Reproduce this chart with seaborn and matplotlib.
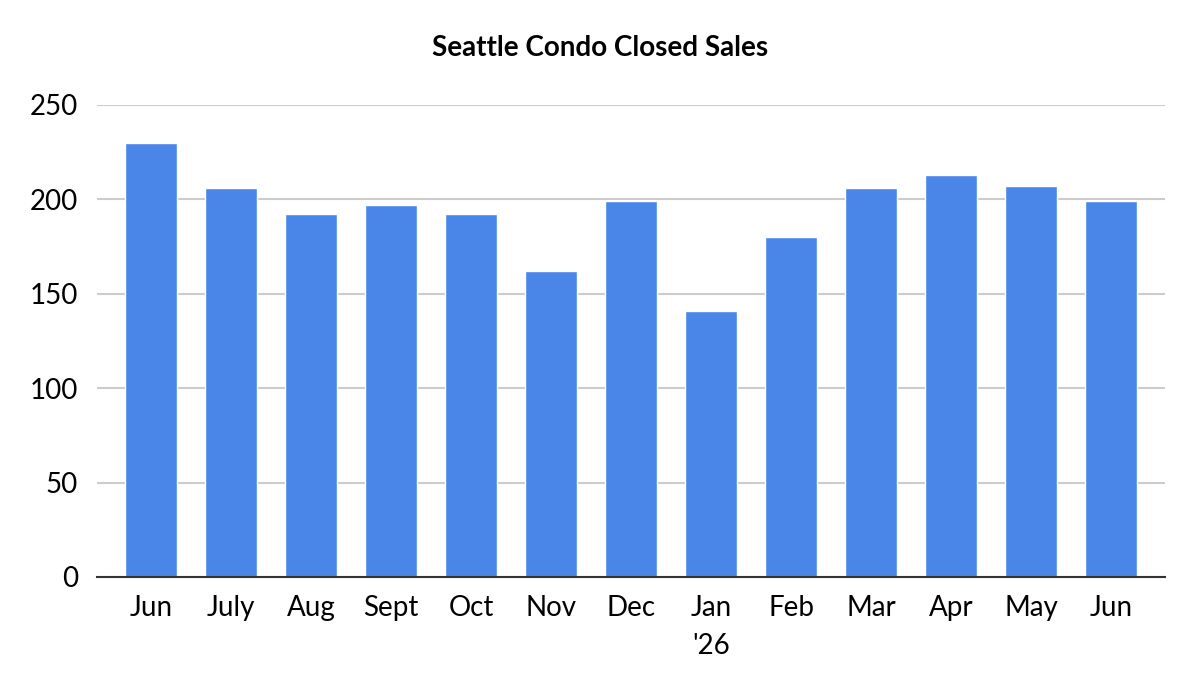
import matplotlib
matplotlib.use("Agg")
import matplotlib.pyplot as plt
import seaborn as sns
import pandas as pd

# data
months = ["Jun", "July", "Aug", "Sept", "Oct", "Nov", "Dec", "Jan\n'26",
          "Feb", "Mar", "Apr", "May", "Jun"]
sales = [230, 206, 192, 197, 192, 162, 199, 141, 180, 206, 213, 207, 199]
y_ticks = [0, 50, 100, 150, 200, 250]

df = pd.DataFrame({"Month": range(len(months)), "Sales": sales})

sns.set_theme(style="white")
plt.rcParams["font.family"] = ["Lato", "DejaVu Sans"]

fig = plt.figure(figsize=(12, 6.98), dpi=100)
ax = fig.add_axes([0.081, 0.1734, 0.890, 0.6762])

sns.barplot(data=df, x="Month", y="Sales", color="#4a86e8", saturation=1,
            width=0.65, ax=ax)

ax.set_xlim(-0.675, len(months) - 1 + 0.675)
ax.set_ylim(0, 250)
ax.set_yticks(y_ticks)
ax.set_yticklabels([str(t) for t in y_ticks], fontsize=20, color="black")
ax.set_xticks(range(len(months)))
ax.set_xticklabels(months, fontsize=20, linespacing=1.55, va="top",
                   color="black")
ax.tick_params(axis="x", length=0, pad=13)
ax.tick_params(axis="y", length=0, pad=14)
ax.set_xlabel("")
ax.set_ylabel("")
ax.yaxis.grid(True, color="#cccccc", linewidth=1.5)
ax.set_axisbelow(True)
for s in ["top", "right", "left"]:
    ax.spines[s].set_visible(False)
ax.spines["bottom"].set_color("#333333")
ax.spines["bottom"].set_linewidth(1.5)

fig.text(0.5, 0.931, "Seattle Condo Closed Sales", ha="center", va="center",
         fontsize=20, fontweight="bold", color="black")

fig.savefig("out.png", dpi=100)
